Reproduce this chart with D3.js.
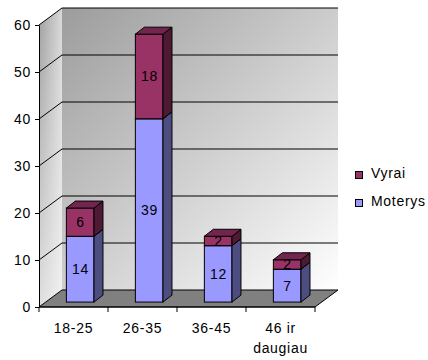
<!DOCTYPE html>
<html>
<head>
<meta charset="utf-8">
<script src="https://cdn.jsdelivr.net/npm/d3@7"></script>
<style>
  body { margin: 0; background: #fff; }
  svg { display: block; font-family: "Liberation Sans", Arial, sans-serif; }
  svg text { font-size: 14px; letter-spacing: 0.7px; fill: #000; }
</style>
</head>
<body>
<svg id="chart" width="428" height="360"></svg>
<script>
// Age groups and respondents by sex
const categories = ["18-25", "26-35", "36-45", "46 ir\ndaugiau"];
const moterys = [14, 39, 12, 7];
const vyrai = [6, 18, 2, 2];
const seriesNames = ["Moterys", "Vyrai"];
const yTicks = [0, 10, 20, 30, 40, 50, 60];

const colors = {
  Moterys: { front: "#9999ff", side: "#4d4d80", top: "#7373bf" },
  Vyrai:   { front: "#993366", side: "#4d1933", top: "#73264d" }
};

const svg = d3.select("#chart");
const defs = svg.append("defs");

// plot geometry: front-left corner of the floor and the depth of the box
const x0 = 39, x1 = 315;
const DX = 23, DY = 17;

const x = d3.scaleBand().domain(categories).range([x0, x1]).padding(0);
const y = d3.scaleLinear().domain([0, 60]).range([307, 25]);

// wall shading
const gBack = defs.append("linearGradient").attr("id", "backWall")
  .attr("gradientUnits", "userSpaceOnUse")
  .attr("x1", x0 + DX).attr("y1", y(60) - DY).attr("x2", x1 + DX).attr("y2", y(0) - DY);
gBack.append("stop").attr("offset", 0).attr("stop-color", "#9c9c9c");
gBack.append("stop").attr("offset", 1).attr("stop-color", "#ffffff");

const gSide = defs.append("linearGradient").attr("id", "sideWall")
  .attr("x1", 0).attr("y1", 0).attr("x2", 1).attr("y2", 0);
gSide.append("stop").attr("offset", 0).attr("stop-color", "#a0a0a0");
gSide.append("stop").attr("offset", 1).attr("stop-color", "#d8d8d8");

const gSideV = defs.append("linearGradient").attr("id", "sideWallV")
  .attr("x1", 0).attr("y1", 0).attr("x2", 0).attr("y2", 1);
gSideV.append("stop").attr("offset", 0).attr("stop-color", "#fff").attr("stop-opacity", 0);
gSideV.append("stop").attr("offset", 1).attr("stop-color", "#fff").attr("stop-opacity", 0.65);

const poly = pts => "M" + pts.map(p => p.join(",")).join("L") + "Z";

// back wall
svg.append("rect")
  .attr("x", x0 + DX).attr("y", y(60) - DY)
  .attr("width", x1 - x0).attr("height", y(0) - y(60))
  .attr("fill", "url(#backWall)");

// left wall
const leftWall = [[x0, y(60)], [x0 + DX, y(60) - DY], [x0 + DX, y(0) - DY], [x0, y(0)]];
svg.append("path").attr("d", poly(leftWall)).attr("fill", "url(#sideWall)");
svg.append("path").attr("d", poly(leftWall)).attr("fill", "url(#sideWallV)");

// floor
svg.append("path")
  .attr("d", poly([[x0, y(0)], [x1, y(0)], [x1 + DX, y(0) - DY], [x0 + DX, y(0) - DY]]))
  .attr("fill", "#808080").attr("stroke", "#000").attr("stroke-width", 1);

// gridlines across the left and back walls
svg.append("g").selectAll("path")
  .data(yTicks.filter(t => t > 0))
  .join("path")
  .attr("d", t => `M${x0},${y(t)}L${x0 + DX},${y(t) - DY}L${x1 + DX},${y(t) - DY}`)
  .attr("fill", "none").attr("stroke", "#000").attr("stroke-width", 1);

// y axis
const yAxis = svg.append("g")
  .attr("transform", `translate(${x0},0)`)
  .call(d3.axisLeft(y).tickValues(yTicks).tickSize(4).tickPadding(4).tickSizeOuter(0));
yAxis.attr("font-size", null).attr("font-family", null);
yAxis.select(".domain").attr("stroke", "#000");
yAxis.selectAll("text").attr("fill", "#000");

// x axis: category labels centred, tick marks on the band boundaries
const xAxis = svg.append("g")
  .attr("transform", `translate(0,${y(0)})`)
  .call(d3.axisBottom(x).tickSize(0).tickPadding(16));
xAxis.attr("font-size", null).attr("font-family", null);
xAxis.select(".domain").remove();
xAxis.selectAll("text").attr("fill", "#000")
  .each(function (d) {
    const lines = d.split("\n");
    const t = d3.select(this).text(null);
    lines.forEach((ln, i) => {
      t.append("tspan").attr("x", 0).attr("dy", i === 0 ? "0.71em" : "1.4em").text(ln);
    });
  });
svg.append("line").attr("x1", x0).attr("x2", x1).attr("y1", y(0)).attr("y2", y(0))
  .attr("stroke", "#000");
svg.append("g").selectAll("line")
  .data(d3.range(categories.length + 1))
  .join("line")
  .attr("x1", i => x0 + i * x.step()).attr("x2", i => x0 + i * x.step())
  .attr("y1", y(0)).attr("y2", y(0) + 5)
  .attr("stroke", "#000");

// stacked 3D bars
const table = categories.map((c, i) => ({ cat: c, Moterys: moterys[i], Vyrai: vyrai[i] }));
const stacked = d3.stack().keys(seriesNames)(table);

const f = 0.29;                 // bar position inside the box depth
const offX = f * DX, offY = f * DY;
const bdx = 9, bdy = 7;         // bar depth
const bw = x.bandwidth() * 0.4;

const bars = svg.append("g");
categories.forEach((c, i) => {
  const g = bars.append("g");
  const left = x(c) + x.bandwidth() / 2 - bw / 2 + offX;
  const right = left + bw;
  stacked.forEach(layer => {
    const seg = layer[i];
    const col = colors[layer.key];
    const yb = y(seg[0]) - offY, yt = y(seg[1]) - offY;
    g.append("rect")
      .attr("x", left).attr("y", yt).attr("width", bw).attr("height", yb - yt)
      .attr("fill", col.front).attr("stroke", "#000").attr("stroke-width", 1);
    g.append("path")
      .attr("d", poly([[right, yt], [right + bdx, yt - bdy], [right + bdx, yb - bdy], [right, yb]]))
      .attr("fill", col.side).attr("stroke", "#000").attr("stroke-width", 1).attr("stroke-linejoin", "round");
    g.append("path")
      .attr("d", poly([[left, yt], [left + bdx, yt - bdy], [right + bdx, yt - bdy], [right, yt]]))
      .attr("fill", col.top).attr("stroke", "#000").attr("stroke-width", 1).attr("stroke-linejoin", "round");
  });
  stacked.forEach(layer => {
    const seg = layer[i];
    const yb = y(seg[0]) - offY, yt = y(seg[1]) - offY;
    g.append("text")
      .attr("x", left + bw / 2 + 0.35).attr("y", (yb + yt) / 2)
      .attr("text-anchor", "middle").attr("dominant-baseline", "central")
      .text(seg.data[layer.key]);
  });
});

// legend
const legend = svg.append("g");
const legendItems = ["Vyrai", "Moterys"];
legendItems.forEach((name, i) => {
  const cy = 175 + i * 28;
  legend.append("rect")
    .attr("x", 355.5).attr("y", cy - 3.5).attr("width", 7).attr("height", 7)
    .attr("fill", colors[name].front).attr("stroke", "#000").attr("stroke-width", 1);
  legend.append("text")
    .attr("x", 371).attr("y", cy + 3.2)
    .text(name);
});
</script>
</body>
</html>
